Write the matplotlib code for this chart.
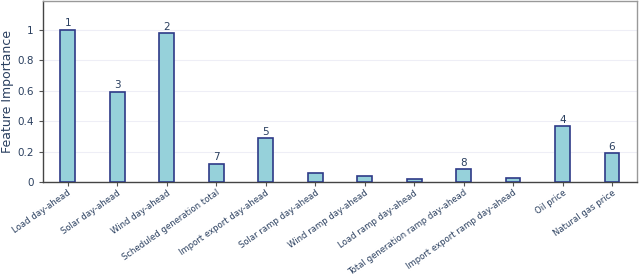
import matplotlib.pyplot as plt

features = ["Load day-ahead", "Solar day-ahead", "Wind day-ahead", "Scheduled generation total",
            "Import export day-ahead", "Solar ramp day-ahead", "Wind ramp day-ahead",
            "Load ramp day-ahead", "Total generation ramp day-ahead",
            "Import export ramp day-ahead", "Oil price", "Natural gas price"]
importance = [1.0, 0.595, 0.98, 0.122, 0.288, 0.057, 0.041, 0.02, 0.085, 0.024, 0.368, 0.19]
ranks = [1, 3, 2, 7, 5, None, None, None, 8, None, 4, 6]

txt = "#2a3f5f"

fig = plt.figure(figsize=(6.4, 2.78), dpi=100)
ax = fig.add_axes([0.067, 0.345, 0.928, 0.651])

x = range(len(features))
ax.bar(x, importance, width=0.3, color="#96d1da", edgecolor="#2e3a87", linewidth=1.2, zorder=3)
for i, (v, r) in enumerate(zip(importance, ranks)):
    if r is not None:
        ax.text(i, v + 0.01, str(r), ha="center", va="bottom", fontsize=7.5, color=txt)

ax.set_xlim(-0.5, len(features) - 0.5)
ax.set_ylim(0, 1.19)
ax.set_yticks([0, 0.2, 0.4, 0.6, 0.8, 1])
ax.set_yticklabels(["0", "0.2", "0.4", "0.6", "0.8", "1"])
ax.set_xticks(list(x))
ax.set_xticklabels(features, rotation=35, ha="right", rotation_mode="anchor", fontsize=6.1)
ax.tick_params(axis="y", labelsize=7.5)
ax.tick_params(axis="both", labelcolor=txt, colors="#555555", length=3, width=0.8)
ax.tick_params(axis="x", pad=1.5)
ax.grid(axis="y", color="#eeeef6", linewidth=0.8, zorder=0)
fig.text(8 / 640, 0.67, "Feature Importance", rotation=90, ha="center", va="center",
         fontsize=9, color=txt)

for s in ["left", "bottom"]:
    ax.spines[s].set_color("#444444")
    ax.spines[s].set_linewidth(1)
for s in ["top", "right"]:
    ax.spines[s].set_color("#999999")
    ax.spines[s].set_linewidth(1)

fig.savefig("out.png", dpi=100)
